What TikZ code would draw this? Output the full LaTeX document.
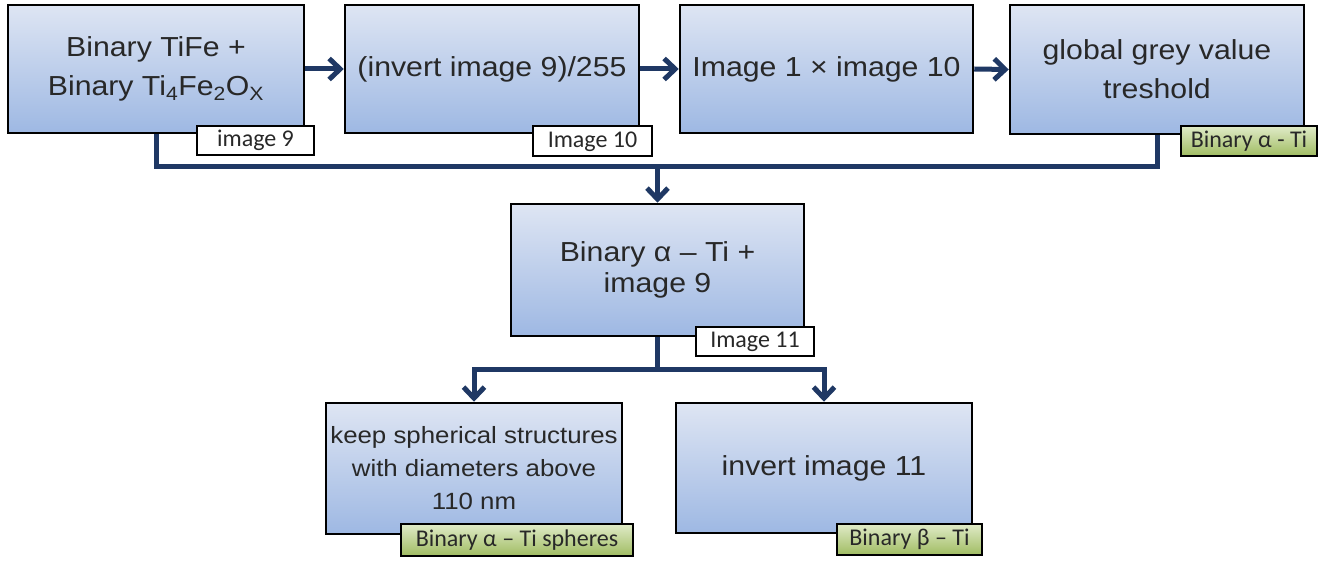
\documentclass[tikz,border=0pt]{standalone}
\usepackage{fontspec}
\setmainfont{Liberation Sans}[FakeStretch=1.1]
\newfontfamily\labfont{Carlito}
\usetikzlibrary{arrows.meta}
\definecolor{navy}{RGB}{31,56,100}
\definecolor{boxtop}{RGB}{222,229,243}
\definecolor{boxbot}{RGB}{158,184,227}
\definecolor{gtop}{RGB}{224,235,200}
\definecolor{gbot}{RGB}{160,188,98}
\definecolor{labtext}{RGB}{40,40,40}
\tikzset{
  box/.style={draw=black, line width=2.5pt, top color=boxtop, bottom color=boxbot,
    align=center, inner sep=0pt, text=labtext, font=\fontsize{27.5}{39}\selectfont},
  lab/.style={draw=black, line width=2pt, fill=white, inner sep=0pt, text=labtext,
    font=\labfont\fontsize{24}{28}\selectfont},
  glab/.style={lab, top color=gtop, bottom color=gbot},
  wire/.style={draw=navy, line width=5pt},
  conn/.style={wire, -{Straight Barb[length=11pt,width=21pt]}}
}
\begin{document}
\begin{tikzpicture}[x=1pt,y=-1pt]
\useasboundingbox (0,0) rectangle (1336,561);
% boxes
\node[box, minimum width=296pt, minimum height=128pt] (B1) at (156,69) {Binary TiFe +\\Binary Ti\textsubscript{4}Fe\textsubscript{2}O\textsubscript{X}};
\node[box, minimum width=294pt, minimum height=128pt] (B2) at (492,69) {(invert image 9)/255};
\node[box, minimum width=293pt, minimum height=128pt] (B3) at (826.5,69) {Image 1 × image 10};
\node[box, minimum width=294pt, minimum height=129pt] (B4) at (1157,69.5) {global grey value\\treshold};
\node[box, minimum width=293pt, minimum height=132pt, font=\fontsize{27.5}{31}\selectfont] (B5) at (657.5,270) {Binary α – Ti +\\image 9};
\node[box, minimum width=296pt, minimum height=131pt, font=\fontsize{23.5}{33}\selectfont] (B6) at (474,468.5) {keep spherical structures\\with diameters above\\110 nm};
\node[box, minimum width=296pt, minimum height=130pt] (B7) at (824,468) {invert image 11};
% connectors
\coordinate (j1) at (657.5,167);
\coordinate (j2) at (657.5,369);
\draw[conn] (B1.east) -- (B2.west);
\draw[conn] (B2.east) -- (B3.west);
\draw[conn] (B3.east) -- (B4.west);
\draw[wire] (B1.south) |- (j1) -| (B4.south);
\draw[conn] (j1) -- (B5.north);
\draw[wire] (B5.south) -- (j2);
\draw[conn] (j2) -| (B6.north);
\draw[conn] (j2) -| (B7.north);
% labels
\node[lab, minimum width=117pt, minimum height=29pt] (L1) at (255.5,140.5) {image 9};
\node[lab, minimum width=119pt, minimum height=30pt] (L2) at (592.5,141.5) {Image 10};
\node[glab, minimum width=136pt, minimum height=30pt] (L4) at (1249,141) {Binary α - Ti};
\node[lab, minimum width=118pt, minimum height=29pt] (L5) at (755,341.5) {Image 11};
\node[glab, minimum width=232pt, minimum height=32pt] (L6) at (517,540) {Binary α – Ti spheres};
\node[glab, minimum width=145pt, minimum height=31pt] (L7) at (909.5,539.5) {Binary β – Ti};
\end{tikzpicture}
\end{document}
